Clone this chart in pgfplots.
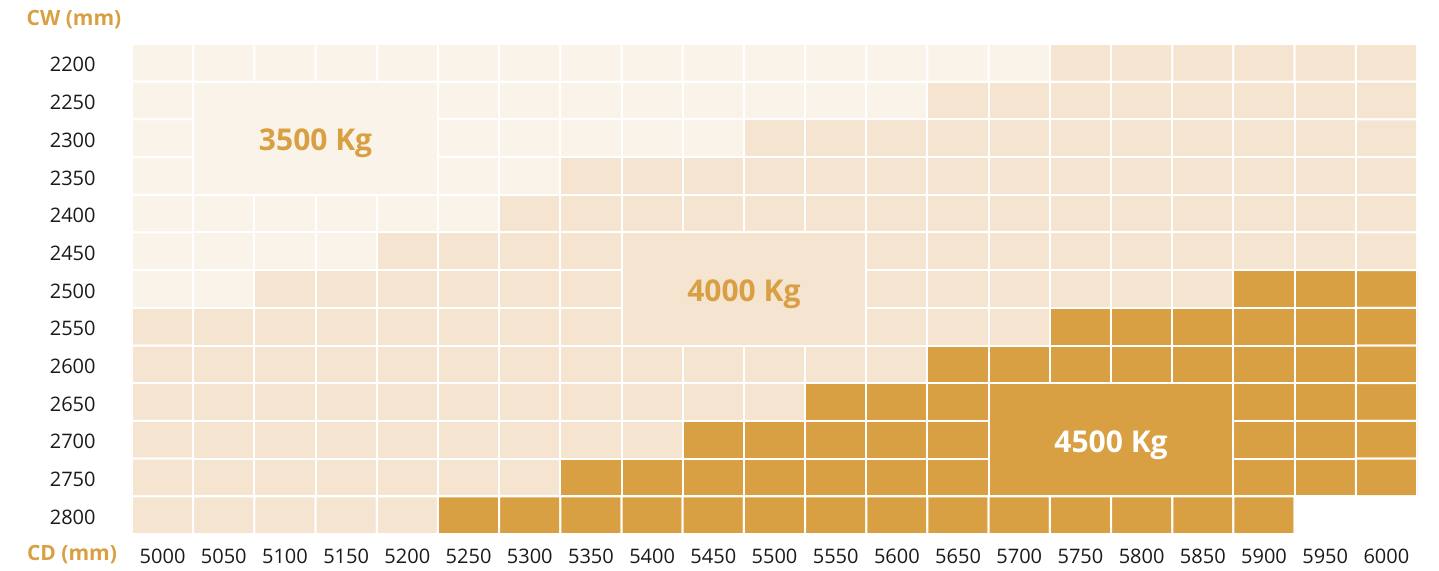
\documentclass[border=0pt]{standalone}
\usepackage{pgfplots}
\pgfplotsset{compat=1.18}
\usepackage{fontspec}
\setmainfont{Open Sans}
\IfFontExistsTF{Open Sans SemiBold}{\newfontfamily\semib{Open Sans SemiBold}}{\newcommand\semib{\bfseries}}
\definecolor{cA}{RGB}{250,243,233}
\definecolor{cB}{RGB}{245,228,208}
\definecolor{cC}{RGB}{216,160,66}
\definecolor{corange}{RGB}{216,160,66}
\definecolor{tick}{RGB}{26,26,26}
\begin{document}
\begin{tikzpicture}
\begin{axis}[
  scale only axis, width=642.5pt, height=245pt,
  xmin=4975, xmax=6025, ymin=2175, ymax=2825, y dir=reverse,
  enlargelimits=false,
  axis line style={draw=none}, major tick length=0pt, tick style={draw=none},
  xtick={5000,5050,...,6000}, ytick={2200,2250,...,2800},
  /pgf/number format/1000 sep={}, /pgf/number format/assume math mode=true,
  ticklabel style={font=\fontsize{10}{12}\selectfont, text=tick},
  yticklabel style={anchor=east, inner sep=0pt, xshift=-18pt, yshift=-1pt},
  xticklabel style={anchor=north, inner sep=0pt, yshift=-7.5pt},
  colormap={cats}{rgb255=(250,243,233) rgb255=(245,228,208) rgb255=(216,160,66) rgb255=(255,255,255)},
  colormap access=direct,
]
\addplot[matrix plot*, mesh/cols=21, point meta=explicit, shader=faceted, faceted color=white, line width=1pt] coordinates {
(5000,2200)[0] (5050,2200)[0] (5100,2200)[0] (5150,2200)[0] (5200,2200)[0] (5250,2200)[0] (5300,2200)[0] (5350,2200)[0] (5400,2200)[0] (5450,2200)[0] (5500,2200)[0] (5550,2200)[0] (5600,2200)[0] (5650,2200)[0] (5700,2200)[0] (5750,2200)[1] (5800,2200)[1] (5850,2200)[1] (5900,2200)[1] (5950,2200)[1] (6000,2200)[1]

(5000,2250)[0] (5050,2250)[0] (5100,2250)[0] (5150,2250)[0] (5200,2250)[0] (5250,2250)[0] (5300,2250)[0] (5350,2250)[0] (5400,2250)[0] (5450,2250)[0] (5500,2250)[0] (5550,2250)[0] (5600,2250)[0] (5650,2250)[1] (5700,2250)[1] (5750,2250)[1] (5800,2250)[1] (5850,2250)[1] (5900,2250)[1] (5950,2250)[1] (6000,2250)[1]

(5000,2300)[0] (5050,2300)[0] (5100,2300)[0] (5150,2300)[0] (5200,2300)[0] (5250,2300)[0] (5300,2300)[0] (5350,2300)[0] (5400,2300)[0] (5450,2300)[0] (5500,2300)[1] (5550,2300)[1] (5600,2300)[1] (5650,2300)[1] (5700,2300)[1] (5750,2300)[1] (5800,2300)[1] (5850,2300)[1] (5900,2300)[1] (5950,2300)[1] (6000,2300)[1]

(5000,2350)[0] (5050,2350)[0] (5100,2350)[0] (5150,2350)[0] (5200,2350)[0] (5250,2350)[0] (5300,2350)[0] (5350,2350)[1] (5400,2350)[1] (5450,2350)[1] (5500,2350)[1] (5550,2350)[1] (5600,2350)[1] (5650,2350)[1] (5700,2350)[1] (5750,2350)[1] (5800,2350)[1] (5850,2350)[1] (5900,2350)[1] (5950,2350)[1] (6000,2350)[1]

(5000,2400)[0] (5050,2400)[0] (5100,2400)[0] (5150,2400)[0] (5200,2400)[0] (5250,2400)[0] (5300,2400)[1] (5350,2400)[1] (5400,2400)[1] (5450,2400)[1] (5500,2400)[1] (5550,2400)[1] (5600,2400)[1] (5650,2400)[1] (5700,2400)[1] (5750,2400)[1] (5800,2400)[1] (5850,2400)[1] (5900,2400)[1] (5950,2400)[1] (6000,2400)[1]

(5000,2450)[0] (5050,2450)[0] (5100,2450)[0] (5150,2450)[0] (5200,2450)[1] (5250,2450)[1] (5300,2450)[1] (5350,2450)[1] (5400,2450)[1] (5450,2450)[1] (5500,2450)[1] (5550,2450)[1] (5600,2450)[1] (5650,2450)[1] (5700,2450)[1] (5750,2450)[1] (5800,2450)[1] (5850,2450)[1] (5900,2450)[1] (5950,2450)[1] (6000,2450)[1]

(5000,2500)[0] (5050,2500)[0] (5100,2500)[1] (5150,2500)[1] (5200,2500)[1] (5250,2500)[1] (5300,2500)[1] (5350,2500)[1] (5400,2500)[1] (5450,2500)[1] (5500,2500)[1] (5550,2500)[1] (5600,2500)[1] (5650,2500)[1] (5700,2500)[1] (5750,2500)[1] (5800,2500)[1] (5850,2500)[1] (5900,2500)[2] (5950,2500)[2] (6000,2500)[2]

(5000,2550)[1] (5050,2550)[1] (5100,2550)[1] (5150,2550)[1] (5200,2550)[1] (5250,2550)[1] (5300,2550)[1] (5350,2550)[1] (5400,2550)[1] (5450,2550)[1] (5500,2550)[1] (5550,2550)[1] (5600,2550)[1] (5650,2550)[1] (5700,2550)[1] (5750,2550)[2] (5800,2550)[2] (5850,2550)[2] (5900,2550)[2] (5950,2550)[2] (6000,2550)[2]

(5000,2600)[1] (5050,2600)[1] (5100,2600)[1] (5150,2600)[1] (5200,2600)[1] (5250,2600)[1] (5300,2600)[1] (5350,2600)[1] (5400,2600)[1] (5450,2600)[1] (5500,2600)[1] (5550,2600)[1] (5600,2600)[1] (5650,2600)[2] (5700,2600)[2] (5750,2600)[2] (5800,2600)[2] (5850,2600)[2] (5900,2600)[2] (5950,2600)[2] (6000,2600)[2]

(5000,2650)[1] (5050,2650)[1] (5100,2650)[1] (5150,2650)[1] (5200,2650)[1] (5250,2650)[1] (5300,2650)[1] (5350,2650)[1] (5400,2650)[1] (5450,2650)[1] (5500,2650)[1] (5550,2650)[2] (5600,2650)[2] (5650,2650)[2] (5700,2650)[2] (5750,2650)[2] (5800,2650)[2] (5850,2650)[2] (5900,2650)[2] (5950,2650)[2] (6000,2650)[2]

(5000,2700)[1] (5050,2700)[1] (5100,2700)[1] (5150,2700)[1] (5200,2700)[1] (5250,2700)[1] (5300,2700)[1] (5350,2700)[1] (5400,2700)[1] (5450,2700)[2] (5500,2700)[2] (5550,2700)[2] (5600,2700)[2] (5650,2700)[2] (5700,2700)[2] (5750,2700)[2] (5800,2700)[2] (5850,2700)[2] (5900,2700)[2] (5950,2700)[2] (6000,2700)[2]

(5000,2750)[1] (5050,2750)[1] (5100,2750)[1] (5150,2750)[1] (5200,2750)[1] (5250,2750)[1] (5300,2750)[1] (5350,2750)[2] (5400,2750)[2] (5450,2750)[2] (5500,2750)[2] (5550,2750)[2] (5600,2750)[2] (5650,2750)[2] (5700,2750)[2] (5750,2750)[2] (5800,2750)[2] (5850,2750)[2] (5900,2750)[2] (5950,2750)[2] (6000,2750)[2]

(5000,2800)[1] (5050,2800)[1] (5100,2800)[1] (5150,2800)[1] (5200,2800)[1] (5250,2800)[2] (5300,2800)[2] (5350,2800)[2] (5400,2800)[2] (5450,2800)[2] (5500,2800)[2] (5550,2800)[2] (5600,2800)[2] (5650,2800)[2] (5700,2800)[2] (5750,2800)[2] (5800,2800)[2] (5850,2800)[2] (5900,2800)[2] (5950,2800)[3] (6000,2800)[3]
};
% merged label blocks
\addplot[fill=cA, draw=white, line width=1pt] coordinates {(5025,2225) (5225,2225) (5225,2375) (5025,2375) (5025,2225)};
\addplot[fill=cB, draw=white, line width=1pt] coordinates {(5375,2425) (5575,2425) (5575,2575) (5375,2575) (5375,2425)};
\addplot[fill=cC, draw=white, line width=1pt] coordinates {(5675,2625) (5875,2625) (5875,2775) (5675,2775) (5675,2625)};
\node[font=\fontsize{15}{18}\selectfont\semib, text=corange, yshift=-2.5pt] at (axis cs:5125,2300) {3500 Kg};
\node[font=\fontsize{15}{18}\selectfont\semib, text=corange, yshift=-2.5pt] at (axis cs:5475,2500) {4000 Kg};
\node[font=\fontsize{15}{18}\selectfont\semib, text=white, yshift=-2.5pt] at (axis cs:5775,2700) {4500 Kg};
\end{axis}
\node[font=\fontsize{10.5}{12}\selectfont\semib, text=corange] at ([xshift=-29pt,yshift=12pt]current axis.north west) {CW (mm)};
\node[font=\fontsize{10.5}{12}\selectfont\semib, text=corange] at ([xshift=-30pt,yshift=-10.5pt]current axis.south west) {CD (mm)};
\pgfresetboundingbox
\path ([xshift=-66pt,yshift=-18.5pt]current axis.south west) rectangle ([xshift=11pt,yshift=22pt]current axis.north east);
\end{tikzpicture}
\end{document}
